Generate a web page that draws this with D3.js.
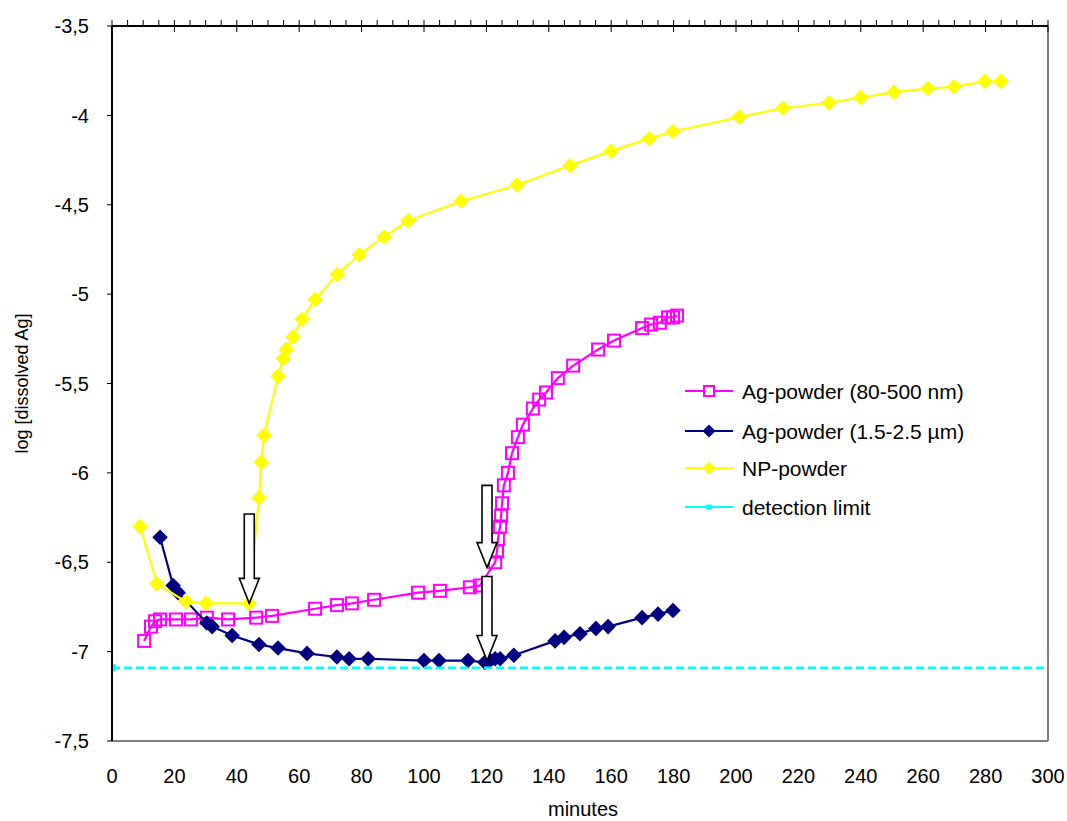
<!DOCTYPE html>
<html><head><meta charset="utf-8">
<script src="https://cdn.jsdelivr.net/npm/d3@7"></script>
<style>body{margin:0;background:#fff}svg{display:block;font-family:Arial,"Liberation Sans",sans-serif}</style>
</head><body><svg id="c" width="1067" height="821"></svg>
<script>
// ---- data ----
const xTicks = [0,20,40,60,80,100,120,140,160,180,200,220,240,260,280,300];
const yTicks = [-3.5,-4,-4.5,-5,-5.5,-6,-6.5,-7,-7.5];
const seriesNames = ["Ag-powder (80-500 nm)","Ag-powder (1.5-2.5 µm)","NP-powder","detection limit"];

const pinkX = [10.3,12.5,13.8,15.4,20.5,25.3,30.4,37.2,46.2,51.3,65.1,72.1,76.9,84.0,98.1,105.1,114.7,117.9,122.8,123.4,123.7,124.4,124.7,125.0,125.6,126.9,128.2,130.1,131.7,134.9,136.9,139.1,142.9,147.8,155.8,160.9,169.9,172.8,175.6,178.2,179.8,181.1];
const pinkY = [-6.94,-6.86,-6.83,-6.82,-6.82,-6.82,-6.81,-6.82,-6.81,-6.80,-6.76,-6.74,-6.73,-6.71,-6.67,-6.66,-6.64,-6.63,-6.50,-6.44,-6.37,-6.30,-6.24,-6.17,-6.07,-6.00,-5.89,-5.80,-5.73,-5.64,-5.59,-5.55,-5.47,-5.40,-5.31,-5.26,-5.19,-5.17,-5.16,-5.13,-5.13,-5.12];

const navyX = [15.4,19.6,21.2,30.4,32.1,38.5,47.1,53.2,62.5,72.1,76.0,82.1,100.0,104.8,114.1,119.5,121.2,122.8,124.4,128.8,142.0,144.9,150.0,155.1,159.0,169.9,175.0,179.8];
const navyY = [-6.36,-6.63,-6.67,-6.84,-6.86,-6.91,-6.96,-6.98,-7.01,-7.03,-7.04,-7.04,-7.05,-7.05,-7.05,-7.06,-7.05,-7.04,-7.04,-7.02,-6.94,-6.92,-6.90,-6.87,-6.86,-6.81,-6.79,-6.77];

const yellowX = [9.0,14.4,23.7,30.1,43.9,47.1,47.8,48.7,53.2,54.8,55.8,58.0,60.9,65.1,72.1,79.2,87.2,94.9,111.9,129.8,146.8,159.9,172.1,179.8,201.0,215.0,229.8,240.0,250.6,261.5,269.9,279.8,284.9];
const yellowY = [-6.30,-6.62,-6.72,-6.73,-6.73,-6.14,-5.94,-5.79,-5.46,-5.36,-5.31,-5.24,-5.14,-5.03,-4.89,-4.78,-4.68,-4.59,-4.48,-4.39,-4.28,-4.20,-4.13,-4.09,-4.01,-3.96,-3.93,-3.90,-3.87,-3.85,-3.84,-3.81,-3.81];

const limitX = [0,300];
const limitY = [-7.09,-7.09];

// arrows: x, y of top, y of tip
const arrowX = [44,120.2,120.2];
const arrowTop = [-6.23,-6.07,-6.58];
const arrowTip = [-6.73,-6.53,-7.05];

// ---- chart ----
const svg = d3.select("#c");
const L=112,R=1048,T=26,B=741;
const x = d3.scaleLinear().domain([0,300]).range([L,R]);
const y = d3.scaleLinear().domain([-7.5,-3.5]).range([B,T]);
const fmt = v => String(v).replace(".",",");

svg.append("defs").append("clipPath").attr("id","clip")
  .append("rect").attr("x",L).attr("y",T).attr("width",R-L).attr("height",B-T);

// plot border (gray) right & bottom
svg.append("line").attr("x1",L).attr("x2",R).attr("y1",B).attr("y2",B).attr("stroke","#808080").attr("stroke-width",2);
svg.append("line").attr("x1",R).attr("x2",R).attr("y1",T).attr("y2",B).attr("stroke","#808080").attr("stroke-width",2);

// series helper
const zip = (xs,ys)=>xs.map((v,i)=>[v,ys[i]]);
const line = d3.line().x(d=>x(d[0])).y(d=>y(d[1]));
const diamond = s => `M0,${-s}L${s},0L0,${s}L${-s},0Z`;

function series(data,color,marker){
  const g = svg.append("g");
  g.append("path").datum(data).attr("d",line).attr("fill","none").attr("stroke",color).attr("stroke-width",2.2);
  if(marker==="square"){
    g.selectAll("rect").data(data).join("rect")
      .attr("x",d=>x(d[0])-6).attr("y",d=>y(d[1])-6).attr("width",12).attr("height",12)
      .attr("fill","none").attr("stroke",color).attr("stroke-width",2);
  } else {
    g.selectAll("path.m").data(data).join("path").attr("class","m")
      .attr("transform",d=>`translate(${x(d[0])},${y(d[1])})`)
      .attr("d",diamond(7.8)).attr("fill",color);
  }
}
series(zip(pinkX,pinkY),"#FF00FF","square");
series(zip(navyX,navyY),"#000080","diamond");
series(zip(yellowX,yellowY),"#FFFF00","diamond");

// detection limit
const lg = svg.append("g").attr("clip-path","url(#clip)");
const lim = zip(limitX,limitY);
lg.append("path").datum(lim).attr("d",line).attr("fill","none").attr("stroke","#00FFFF").attr("stroke-width",2.5).attr("stroke-dasharray","8,4");
lg.selectAll("rect").data(lim.slice(0,1)).join("rect").attr("x",d=>x(d[0])-4).attr("y",d=>y(d[1])-3.5).attr("width",8).attr("height",7).attr("fill","#00FFFF");

// arrows
arrowX.forEach((ax,i)=>{
  const cx=x(ax), t=y(arrowTop[i]), tip=y(arrowTip[i]);
  const hs=tip-25, sw=5, hw=10;
  svg.append("path")
    .attr("d",`M${cx-sw},${t}L${cx+sw},${t}L${cx+sw},${hs}L${cx+hw},${hs}L${cx},${tip}L${cx-hw},${hs}L${cx-sw},${hs}Z`)
    .attr("fill","#fff").attr("stroke","#000").attr("stroke-width",1.6).attr("stroke-linejoin","miter");
});

// left axis
svg.append("line").attr("x1",L).attr("x2",L).attr("y1",T).attr("y2",B).attr("stroke","#000").attr("stroke-width",2);
const yg = svg.append("g");
yTicks.forEach(v=>{
  yg.append("line").attr("x1",L-5).attr("x2",L).attr("y1",y(v)).attr("y2",y(v)).attr("stroke","#000").attr("stroke-width",1);
  yg.append("text").attr("x",89).attr("y",y(v)).attr("dy","0.36em").attr("text-anchor","end")
    .attr("font-size",20).text(fmt(v));
});

// top axis line with ticks, labels at bottom
svg.append("line").attr("x1",L).attr("x2",R).attr("y1",T).attr("y2",T).attr("stroke","#000").attr("stroke-width",2);
const minor = d3.range(0,301,5).filter(v=>v%20!==0);
minor.forEach(v=>{
  svg.append("line").attr("x1",x(v)).attr("x2",x(v)).attr("y1",T-6).attr("y2",T).attr("stroke","#000").attr("stroke-width",1);
});
xTicks.forEach(v=>{
  svg.append("line").attr("x1",x(v)).attr("x2",x(v)).attr("y1",T-6).attr("y2",T+6).attr("stroke","#000").attr("stroke-width",1);
  svg.append("text").attr("x",x(v)).attr("y",783).attr("text-anchor","middle").attr("font-size",20).text(v);
});

// axis titles
svg.append("text").attr("x",583).attr("y",816).attr("text-anchor","middle").attr("font-size",20).text("minutes");
svg.append("text").attr("transform",`translate(28,${(T+B)/2}) rotate(-90)`).attr("text-anchor","middle").attr("font-size",18).text("log [dissolved Ag]");

// legend
const legY=[391,431,468,507];
const legColors=["#FF00FF","#000080","#FFFF00","#00FFFF"];
const legMarks=["square","diamond","diamond","small"];
seriesNames.forEach((n,i)=>{
  const g=svg.append("g");
  g.append("line").attr("x1",685).attr("x2",733).attr("y1",legY[i]).attr("y2",legY[i]).attr("stroke",legColors[i]).attr("stroke-width",2.2);
  if(legMarks[i]==="square") g.append("rect").attr("x",704).attr("y",legY[i]-5).attr("width",10).attr("height",10).attr("fill","#fff").attr("stroke",legColors[i]).attr("stroke-width",2);
  else if(legMarks[i]==="diamond") g.append("path").attr("transform",`translate(709,${legY[i]})`).attr("d",diamond(6.5)).attr("fill",legColors[i]);
  else g.append("rect").attr("x",706).attr("y",legY[i]-2.5).attr("width",6).attr("height",5).attr("fill",legColors[i]);
  g.append("text").attr("x",742).attr("y",legY[i]).attr("dy","0.36em").attr("font-size",21).text(n);
});
</script></body></html>
